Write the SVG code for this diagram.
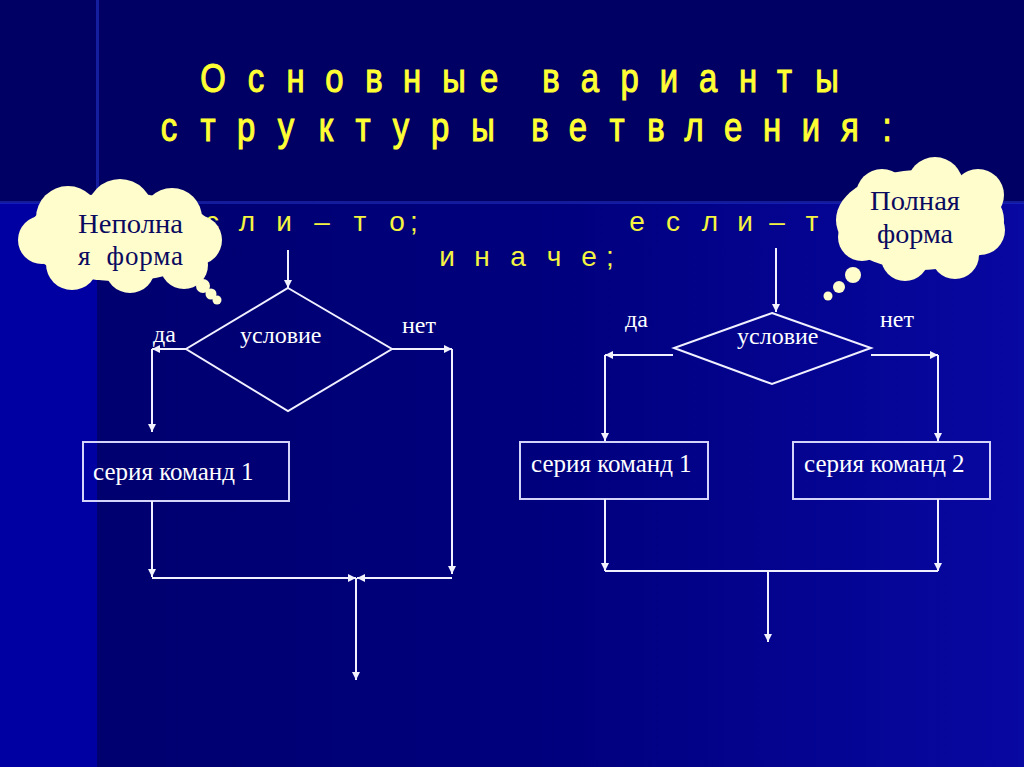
<svg xmlns="http://www.w3.org/2000/svg" width="1024" height="767" viewBox="0 0 1024 767">
<defs>
<linearGradient id="bgLow" x1="0" y1="0" x2="1" y2="0">
<stop offset="0" stop-color="#00006c"/>
<stop offset="0.55" stop-color="#00007e"/>
<stop offset="1" stop-color="#0808a2"/>
</linearGradient>
<marker id="ah" markerUnits="userSpaceOnUse" markerWidth="9" markerHeight="8" refX="8" refY="4" orient="auto">
<path d="M0,0 L8,4 L0,8 z" fill="#f2f2ff"/>
</marker>
<style>
.title{font-family:"Liberation Sans",Arial,sans-serif;font-size:41px;fill:#ffff33;stroke:#ffff33;stroke-width:1.1px;text-anchor:middle}
.sub{font-family:"Liberation Sans",Arial,sans-serif;font-size:28px;fill:#f4f440;text-anchor:middle}
.lbl{font-family:"Liberation Serif","Times New Roman",serif;font-size:24px;fill:#ffffff}
.box{font-family:"Liberation Serif","Times New Roman",serif;font-size:25px;fill:#ffffff}
.cloudtxt{font-family:"Liberation Serif","Times New Roman",serif;font-size:27px;fill:#0a0a60}
.cloud{fill:#fffdcb}
.rect{fill:none;stroke:#d4d4fa;stroke-width:2}
.dia{fill:none;stroke:#f0f0ff;stroke-width:2}
.con path{fill:none;stroke:#f0f0ff;stroke-width:2;marker-end:url(#ah)}
.con path.plain{marker-end:none}
</style>
</defs>

<!-- background -->
<rect x="0" y="0" width="1024" height="767" fill="url(#bgLow)"/>
<rect x="0" y="203" width="97" height="564" fill="#0000a2"/>
<rect x="0" y="0" width="1024" height="203" fill="#000064"/>
<rect x="0" y="201" width="1024" height="3" fill="#2a3cd8" opacity="0.45"/>
<rect x="96" y="0" width="3" height="203" fill="#2a3cd8" opacity="0.5"/>

<!-- title -->
<g id="title">
<text class="title" transform="scale(0.8,1)" x="266.25 320 369.4 418.1 467.5 515 567.5 611.25 650 688.75 737.5 786.9 836.25 885 935 980.6 1033.75" y="92">Основные варианты</text>
<text class="title" transform="scale(0.8,1)" x="211.25 260 307.5 357.5 407.5 453.75 501.25 550 603.75 640 675 722.5 771.25 820 867.5 916.25 965 1013.75 1062.5 1108.75" y="141">структуры ветвления:</text>
</g>

<!-- subtitles -->
<g id="sub-left">
<text class="sub" x="172 212 247 284 303 322 341 360 397 414" y="231">если – то;</text>
</g>
<g id="sub-right">
<text class="sub" x="637 673 710 745 761 777 795 812 848 870" y="231">если – то;</text>
<text class="sub" x="447 482 518 554 589 610" y="266">иначе;</text>
</g>

<!-- left cloud -->
<g id="cloud-left">
<g class="cloud">
<ellipse cx="120" cy="237" rx="96" ry="44"/>
<circle cx="68" cy="218" r="32"/>
<circle cx="120" cy="212" r="33"/>
<circle cx="172" cy="218" r="30"/>
<circle cx="197" cy="240" r="25"/>
<circle cx="184" cy="265" r="24"/>
<circle cx="130" cy="268" r="25"/>
<circle cx="72" cy="264" r="26"/>
<circle cx="42" cy="240" r="24"/>
<circle cx="203" cy="286" r="7"/>
<circle cx="211" cy="294" r="5.5"/>
<circle cx="217" cy="300" r="4.5"/>
</g>
<text class="cloudtxt" x="78" y="233" textLength="105" lengthAdjust="spacingAndGlyphs">Неполна</text>
<text class="cloudtxt" x="78" y="265" textLength="105" lengthAdjust="spacing" xml:space="preserve">я  форма</text>
</g>

<!-- right cloud -->
<g id="cloud-right">
<g class="cloud">
<ellipse cx="920" cy="220" rx="84" ry="50"/>
<circle cx="882" cy="195" r="26"/>
<circle cx="935" cy="185" r="28"/>
<circle cx="978" cy="195" r="26"/>
<circle cx="980" cy="230" r="25"/>
<circle cx="955" cy="255" r="24"/>
<circle cx="905" cy="257" r="24"/>
<circle cx="862" cy="237" r="24"/>
<circle cx="853" cy="275" r="8"/>
<circle cx="839" cy="287" r="6"/>
<circle cx="828" cy="296" r="4.5"/>
</g>
<text class="cloudtxt" x="870" y="210" textLength="90" lengthAdjust="spacingAndGlyphs">Полная</text>
<text class="cloudtxt" x="877" y="243" textLength="76" lengthAdjust="spacingAndGlyphs">форма</text>
</g>

<!-- left flowchart nodes -->
<g id="cond-left">
<polygon class="dia" points="288,288 392,349 288,411 186,349"/>
<text class="lbl" x="240" y="343">условие</text>
</g>
<g id="label-da-left"><text class="lbl" x="153" y="342">да</text></g>
<g id="label-net-left"><text class="lbl" x="402" y="333">нет</text></g>
<g id="series1-left">
<rect class="rect" x="83" y="442" width="206" height="59"/>
<text class="box" x="93" y="480">серия команд 1</text>
</g>

<!-- right flowchart nodes -->
<g id="cond-right">
<polygon class="dia" points="772,313 871,348 772,384 674,348"/>
<text class="lbl" x="737" y="344">условие</text>
</g>
<g id="label-da-right"><text class="lbl" x="625" y="327">да</text></g>
<g id="label-net-right"><text class="lbl" x="880" y="327">нет</text></g>
<g id="series1-right">
<rect class="rect" x="520" y="442" width="188" height="57"/>
<text class="box" x="531" y="472">серия команд 1</text>
</g>
<g id="series2-right">
<rect class="rect" x="793" y="442" width="197" height="57"/>
<text class="box" x="804" y="472">серия команд 2</text>
</g>

<!-- connectors -->
<g id="connectors" class="con">
<path d="M288,250 V288"/>
<path d="M186,349 H152"/>
<path d="M152,349 V432"/>
<path d="M392,349 H452"/>
<path d="M452,349 V574"/>
<path d="M152,501 V577"/>
<path d="M152,578 H356"/>
<path d="M452,578 H357"/>
<path d="M356,578 V680"/>

<path d="M776,248 V312"/>
<path d="M673,355 H605"/>
<path d="M605,355 V441"/>
<path d="M871,355 H938"/>
<path d="M938,355 V441"/>
<path d="M605,499 V571"/>
<path d="M938,499 V571"/>
<path class="plain" d="M605,571 H938"/>
<path d="M768,571 V642"/>
</g>
</svg>
